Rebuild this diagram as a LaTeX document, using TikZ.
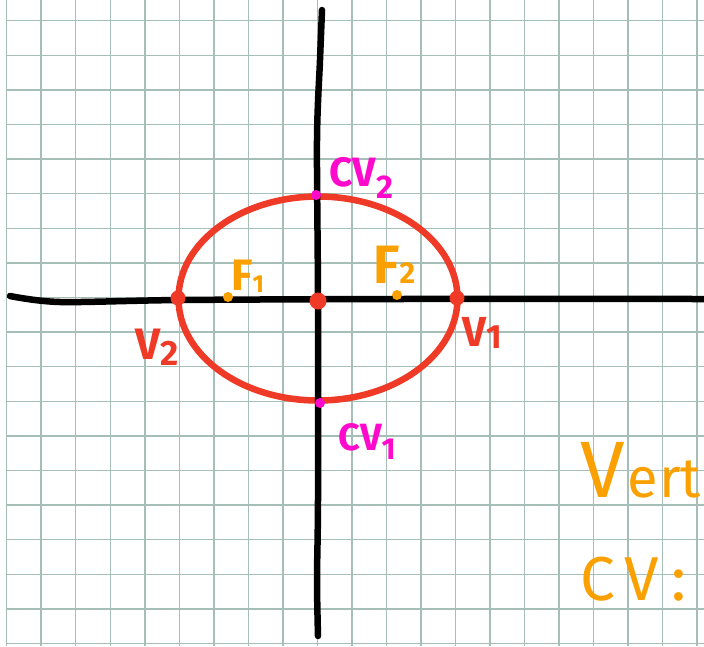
\documentclass[tikz,border=0pt]{standalone}
\usepackage{graphicx}
\usepackage{fontspec}
\setmainfont{Fira Sans}
\definecolor{gridc}{RGB}{165,190,183}
\definecolor{redc}{RGB}{238,58,38}
\definecolor{magc}{RGB}{255,10,205}
\definecolor{orc}{RGB}{250,160,0}
\newcommand\lowsub[2]{\raisebox{-#1em}{\scalebox{0.8}{#2}}}
\tikzset{
  gridline/.style={draw=gridc, line width=1.5},
  axisline/.style={draw=black, line width=6.5, line cap=round, line join=round},
  ellipseline/.style={draw=redc, line width=6.5},
  dotshape/.style={circle, inner sep=0pt, draw=none},
  reddot/.style={dotshape, fill=redc, minimum size=15},
  ordot/.style={dotshape, fill=orc, minimum size=10},
  magdot/.style={dotshape, fill=magc, minimum size=10},
  lbl/.style={inner sep=0pt, font=\bfseries},
}
\begin{document}
\begin{tikzpicture}[x=1pt,y=-1pt]
\useasboundingbox (0,0) rectangle (704,646);
\fill[white] (0,0) rectangle (704,646);
% grid
\foreach \k in {0,...,20} \draw[gridline] ({6.7+34.52*\k},0) -- ({6.7+34.52*\k},646);
\foreach \k in {0,...,18} \draw[gridline] (6.7,{20.7+34.6*\k}) -- (704,{20.7+34.6*\k});
% ellipse
\draw[ellipseline] (318,298.5) ellipse [x radius=139.5, y radius=102];
% axes
\draw[axisline] plot[smooth] coordinates {(10,296) (60,302) (180,300) (400,299) (704,299)};
\draw[axisline] plot[smooth] coordinates {(322,10) (320,60) (317,140) (318,300) (318,500) (317,580) (318,636)};
% points
\node[magdot] (cv2dot) at (316,195) {};
\node[magdot] (cv1dot) at (320,403) {};
\node[reddot] (v2dot) at (178,298) {};
\node[reddot, minimum size=17] (odot) at (318,301) {};
\node[reddot] (v1dot) at (457,298) {};
\node[ordot] (f1dot) at (228,297) {};
\node[ordot] (f2dot) at (397,295) {};
% labels
\node[lbl, text=magc, anchor=base west, font=\bfseries\fontsize{41}{41}\selectfont] (cv2) at (329,186) {CV\lowsub{0.3}{2}};
\node[lbl, text=magc, anchor=base west, font=\bfseries\fontsize{38}{38}\selectfont] (cv1) at (338,450) {CV\lowsub{0.25}{1}};
\node[lbl, text=redc, anchor=base west, font=\bfseries\fontsize{42}{42}\selectfont] (v1) at (462,346) {V\lowsub{0.05}{1}};
\node[lbl, text=redc, anchor=base west, font=\bfseries\fontsize{44}{44}\selectfont] (v2) at (135,359) {V\lowsub{0.15}{2}};
\node[lbl, text=orc, anchor=base west, font=\bfseries\fontsize{44}{44}\selectfont] (f1) at (231,290) {F\lowsub{0.05}{\scalebox{0.7}{1}}};
\node[lbl, text=orc, anchor=base west, font=\bfseries\fontsize{54}{54}\selectfont] (f2) at (373,283) {F\lowsub{0}{\scalebox{0.7}{2}}};
\node[lbl, text=orc, anchor=base west, font=\fontsize{80}{80}\selectfont] (vert) at (580,497) {V\kern3pt{\fontsize{56}{56}\selectfont e\kern1pt rt}};
\node[lbl, text=orc, anchor=base west, font=\fontsize{62}{62}\selectfont] (cv) at (580,600) {C\kern10pt V\kern12pt:};
\end{tikzpicture}
\end{document}
